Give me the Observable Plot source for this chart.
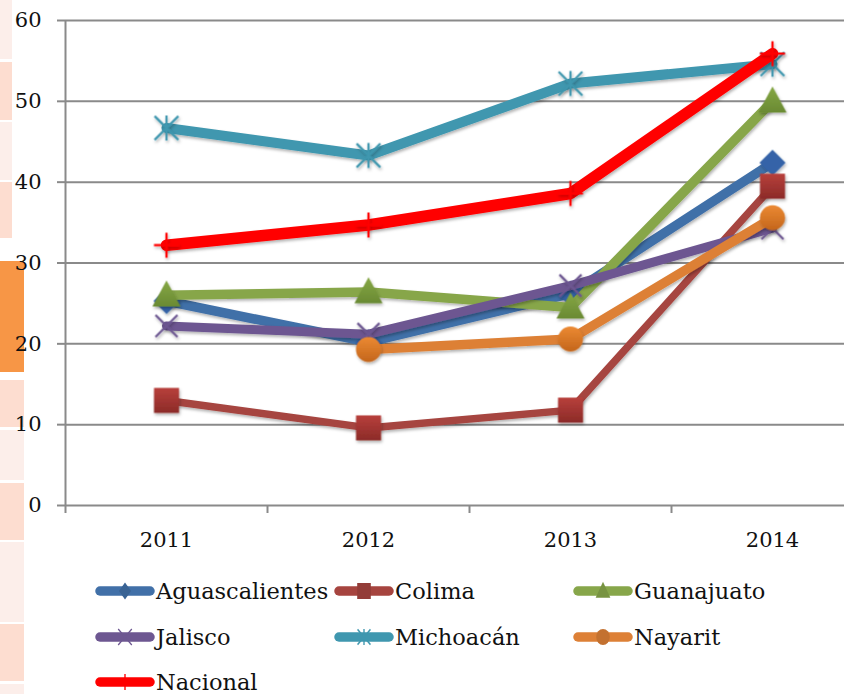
<!DOCTYPE html>
<html>
<head>
<meta charset="utf-8">
<script src="https://cdn.jsdelivr.net/npm/d3@7"></script>
<script src="https://cdn.jsdelivr.net/npm/@observablehq/plot@0.6"></script>
<style>
  html, body { margin: 0; padding: 0; background: #fff; overflow: hidden; }
  #wrap { position: relative; width: 844px; height: 694px; overflow: hidden; font-family: "DejaVu Serif", serif; color: #111; }
  .deco { position: absolute; left: 0; }
  #chart { position: absolute; left: 0; top: 0; }
  .item { position: absolute; display: flex; align-items: center; height: 22px; white-space: nowrap; }
  .item span { font-size: 22.5px; line-height: 22px; margin-left: 1px; color: #111; }
</style>
</head>
<body>
<div id="wrap"><div id="chart"></div></div>
<script>
// ---------------- data ----------------
const years = [2011, 2012, 2013, 2014];
const series = ["Aguascalientes", "Colima", "Guanajuato", "Jalisco", "Michoacán", "Nayarit", "Nacional"];
const aguascalientes = [25.3, 20.2, 26.2, 42.4];
const colima         = [13.0,  9.6, 11.8, 39.5];
const guanajuato     = [26.0, 26.4, 24.5, 50.0];
const jalisco        = [22.2, 21.2, 27.2, 34.3];
const michoacan      = [46.7, 43.3, 52.2, 54.6];
const nayarit        = [null, 19.3, 20.6, 35.6];
const nacional       = [32.2, 34.7, 38.6, 55.9];
const yTicks = [0, 10, 20, 30, 40, 50, 60];

// ---------------- styles ----------------
const values = [aguascalientes, colima, guanajuato, jalisco, michoacan, nayarit, nacional];
const lineColors  = ["#4170A8", "#A6443F", "#87A64A", "#6D5791", "#3F97AF", "#DD8036", "#FF0000"];
const lineWidths  = [9.5, 7.5, 9.5, 9, 10, 9.5, 11.5];
const markerKinds = ["diamond", "square", "triangle", "times", "asterisk", "circle", "plus"];
const markerFills = ["#3563A8", "url(#gSquare)", "url(#gTri)", null, null, "url(#gCircle)", null];
const markerR     = [13, 12.5, 13, 11, 12.5, 12.5, 12.5];

// custom symbols: r = half extent
const mk = fn => ({ draw(ctx, size) { fn(ctx, Math.sqrt(size / Math.PI)); } });
const symbols = {
  diamond: mk((c, r) => { c.moveTo(0, -r); c.lineTo(r, 0); c.lineTo(0, r); c.lineTo(-r, 0); c.closePath(); }),
  square: mk((c, r) => { c.moveTo(-r, -r); c.lineTo(r, -r); c.lineTo(r, r); c.lineTo(-r, r); c.closePath(); }),
  triangle: mk((c, r) => { c.moveTo(0, -r * 1.15); c.lineTo(r * 1.08, r * 0.85); c.lineTo(-r * 1.08, r * 0.85); c.closePath(); }),
  circle: mk((c, r) => { c.moveTo(r, 0); c.arc(0, 0, r, 0, 2 * Math.PI); c.closePath(); }),
  times: mk((c, r) => { c.moveTo(-r, -r); c.lineTo(r, r); c.moveTo(r, -r); c.lineTo(-r, r); }),
  asterisk: mk((c, r) => { const d = r * 0.95; c.moveTo(-d, -d); c.lineTo(d, d); c.moveTo(d, -d); c.lineTo(-d, d); c.moveTo(0, -r); c.lineTo(0, r); }),
  plus: mk((c, r) => { c.moveTo(0, -r); c.lineTo(0, r); c.moveTo(-r, 0); c.lineTo(r, 0); })
};
const strokeOnly = k => k === "times" || k === "asterisk" || k === "plus";

// ---------------- decoration strips (slide background) ----------------
const decoStrips = [
  [0, 59, 12, "#FCEEEA"], [62, 58, 12, "#FDDDD0"], [122, 58, 12, "#FCEEEA"], [182, 56, 12, "#FDDDD0"],
  [261, 111, 24, "#F79646"], [380, 47, 24, "#FDDDD0"], [430, 50, 24, "#FCEEEA"], [483, 57, 24, "#FDDDD0"],
  [542, 80, 24, "#FCEEEA"], [624, 57, 24, "#FDDDD0"], [684, 10, 24, "#FCEEEA"]
];
const wrap = document.getElementById("wrap");
for (const [t, h, w, c] of decoStrips) {
  const d = document.createElement("div");
  d.className = "deco";
  Object.assign(d.style, { top: t + "px", height: h + "px", width: w + "px", background: c });
  wrap.insertBefore(d, wrap.firstChild);
}

// ---------------- chart ----------------
const gridColor = "#8A8A8A";
const marks = [
  Plot.ruleY(yTicks, { stroke: gridColor, strokeWidth: 2 }),
  Plot.axisY(yTicks, { tickSize: 8, tickPadding: 16, stroke: gridColor, strokeWidth: 2, fill: "#111", label: null, fontSize: 21 }),
  Plot.ruleX([2010.5], { stroke: gridColor, strokeWidth: 2, insetBottom: -8 }),
  Plot.axisX([2011.5, 2012.5, 2013.5, 2014.5], { tickSize: 8, tickFormat: () => "", stroke: gridColor, strokeWidth: 2, label: null }),
  Plot.axisX(years, { tickSize: 0, tickPadding: 27, tickFormat: d => String(d), fill: "#111", label: null, fontSize: 21 })
];
series.forEach((s, i) => {
  const data = years.map((yr, j) => ({ series: s, year: yr, value: values[i][j] }));
  marks.push(Plot.line(data, {
    x: "year", y: "value", stroke: lineColors[i], strokeWidth: lineWidths[i],
    strokeLinejoin: "round", strokeLinecap: "round"
  }));
  const kind = markerKinds[i];
  const pts = data.filter(d => d.value != null);
  marks.push(Plot.dot(pts, strokeOnly(kind)
    ? { x: "year", y: "value", r: markerR[i], symbol: symbols[kind], fill: "none", stroke: lineColors[i], strokeWidth: 2.2 }
    : { x: "year", y: "value", r: markerR[i], symbol: symbols[kind], fill: markerFills[i], stroke: "none" }));
});

const svg = Plot.plot({
  width: 844, height: 565,
  marginLeft: 65, marginRight: 0, marginTop: 20, marginBottom: 60,
  x: { domain: [2010.5, 2014.5], range: [65, 873], axis: null },
  y: { domain: [0, 60], axis: null },
  style: { fontFamily: "DejaVu Serif", fontSize: "21px", background: "transparent", color: "#111", overflow: "hidden" },
  marks
});

// gradients and soft shadow
const defs = d3.select(svg).insert("defs", ":first-child");
const grad = (id, top, bottom) => {
  const g = defs.append("linearGradient").attr("id", id).attr("x1", 0).attr("y1", 0).attr("x2", 0).attr("y2", 1);
  g.append("stop").attr("offset", "0%").attr("stop-color", top);
  g.append("stop").attr("offset", "100%").attr("stop-color", bottom);
};
grad("gSquare", "#B8403C", "#8C2B28");
grad("gTri", "#86A845", "#6A8A33");
grad("gCircle", "#EC8A33", "#C4661C");
const f = defs.append("filter").attr("id", "shadow").attr("x", "-20%").attr("y", "-20%").attr("width", "140%").attr("height", "140%");
f.append("feDropShadow").attr("dx", 1).attr("dy", 2).attr("stdDeviation", 1.5).attr("flood-color", "#000").attr("flood-opacity", 0.3);
d3.select(svg).selectAll('g[aria-label="line"], g[aria-label="dot"]').attr("filter", "url(#shadow)");

document.getElementById("chart").appendChild(svg);

// ---------------- legend ----------------
const legendLeft = 95, legendColStep = 239, legendTop = 591, legendRowStep = 45.5;
series.forEach((s, i) => {
  const col = i % 3, row = Math.floor(i / 3);
  const item = document.createElement("div");
  item.className = "item";
  item.style.left = (legendLeft + col * legendColStep) + "px";
  item.style.top = (legendTop + row * legendRowStep - 11) + "px";
  const sw = d3.create("svg").attr("width", 60).attr("height", 22);
  sw.append("line").attr("x1", 5).attr("x2", 55).attr("y1", 11).attr("y2", 11)
    .attr("stroke", lineColors[i]).attr("stroke-width", 9.5).attr("stroke-linecap", "round");
  const kind = markerKinds[i];
  const p = d3.path();
  symbols[kind].draw(p, Math.PI * 8 * 8);
  const m = sw.append("path").attr("d", p.toString()).attr("transform", kind === "diamond" ? "translate(30,11) scale(0.75,1.05)" : "translate(30,11) scale(0.85,1.0)");
  if (strokeOnly(kind)) m.attr("fill", "none").attr("stroke", lineColors[i]).attr("stroke-width", 1.6);
  else m.attr("fill", d3.color(lineColors[i]).darker(0.35)).attr("stroke", "none");
  item.appendChild(sw.node());
  const t = document.createElement("span");
  t.textContent = s;
  item.appendChild(t);
  wrap.appendChild(item);
});
</script>
</body>
</html>
